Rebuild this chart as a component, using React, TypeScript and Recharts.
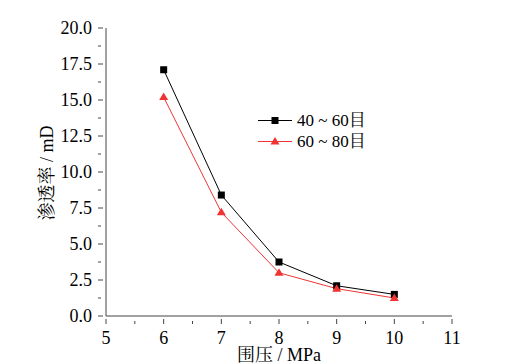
import { LineChart, XAxis, YAxis, Line, Legend } from "recharts";

const pressures = [6, 7, 8, 9, 10];
const mesh4060 = [17.1, 8.4, 3.75, 2.1, 1.5];
const mesh6080 = [15.2, 7.2, 3.0, 1.9, 1.25];

const xTicks = [5, 5.5, 6, 6.5, 7, 7.5, 8, 8.5, 9, 9.5, 10, 10.5, 11];
const yTicks = [0, 1.25, 2.5, 3.75, 5, 6.25, 7.5, 8.75, 10, 11.25, 12.5, 13.75, 15, 16.25, 17.5, 18.75, 20];

const seriesNames = ["40 ~ 60目", "60 ~ 80目"];

const data = pressures.map((p, i) => ({
    p,
    a: mesh4060[i],
    b: mesh6080[i],
}));

const FONT = "'Times New Roman', 'Liberation Serif', Tinos, 'DejaVu Serif', 'Noto Serif CJK SC', 'Noto Sans CJK SC', serif";
const AXIS = "#444";
const RED = "#f03434";

const XTick = (props: any) => {
    const { x, y, payload } = props;
    const major = Number.isInteger(payload.value);
    return (
        <g>
            <line x1={x} x2={x} y1={y} y2={y - (major ? 5 : 3)} stroke={AXIS} />
            {major && (
                <text x={x} y={y + 20} textAnchor="middle" fontSize={18} style={{ fontFamily: FONT }} fill="#000">
                    {payload.value}
                </text>
            )}
        </g>
    );
};

const YTick = (props: any) => {
    const { x, y, payload } = props;
    const major = payload.value % 2.5 === 0;
    return (
        <g>
            <line x1={x} x2={x + (major ? 5 : 3)} y1={y} y2={y} stroke={AXIS} />
            {major && (
                <text x={x - 6} y={y + 6} textAnchor="end" fontSize={18} style={{ fontFamily: FONT }} fill="#000">
                    {payload.value.toFixed(1)}
                </text>
            )}
        </g>
    );
};

const Square = (props: any) => {
    const { cx, cy } = props;
    return <rect x={cx - 3.5} y={cy - 3.5} width={7} height={7} fill="#000" />;
};

const Triangle = (props: any) => {
    const { cx, cy } = props;
    return <path d={`M${cx},${cy - 4.5} L${cx + 4.5},${cy + 3} L${cx - 4.5},${cy + 3} Z`} fill={RED} />;
};

const LegendBox = () => (
    <div style={{ fontFamily: FONT, fontSize: 17, lineHeight: "21px" }}>
        {seriesNames.map((n, i) => (
            <div key={n} style={{ display: "flex", alignItems: "center" }}>
                <svg width={39} height={21}>
                    <line x1={0} x2={34} y1={10.5} y2={10.5} stroke={i === 0 ? "#000" : RED} />
                    {i === 0 ? <Square cx={17} cy={10.5} /> : <Triangle cx={17} cy={10.5} />}
                </svg>
                <span>{n}</span>
            </div>
        ))}
    </div>
);

export default function App() {
    return (
        <div style={{ position: "relative" }}>
            <LineChart width={516} height={356} data={data} margin={{ top: 20, right: 72, left: 0, bottom: 0 }}>
                <XAxis
                    dataKey="p"
                    type="number"
                    domain={[5, 11]}
                    ticks={xTicks}
                    interval={0}
                    tickLine={false}
                    tick={<XTick />}
                    stroke={AXIS}
                    height={48}
                />
                <YAxis
                    type="number"
                    domain={[0, 20]}
                    ticks={yTicks}
                    interval={0}
                    tickLine={false}
                    tick={<YTick />}
                    stroke={AXIS}
                    width={98}
                />
                <Line dataKey="a" stroke="#000" strokeWidth={1} dot={<Square />} isAnimationActive={false} />
                <Line dataKey="b" stroke={RED} strokeWidth={1} dot={<Triangle />} isAnimationActive={false} />
                <Legend
                    content={<LegendBox />}
                    layout="vertical"
                    align="center"
                    verticalAlign="middle"
                    wrapperStyle={{ left: 250, top: 102, width: 130 }}
                />
            </LineChart>
            <div
                style={{
                    position: "absolute",
                    left: 0,
                    top: 340,
                    width: 542,
                    textAlign: "center",
                    fontFamily: FONT,
                    fontSize: 18,
                    lineHeight: "15px",
                }}
            >
                围压 / MPa
            </div>
            <div
                style={{
                    position: "absolute",
                    left: 39,
                    top: 165,
                    transform: "translate(-50%, -50%) rotate(-90deg)",
                    whiteSpace: "nowrap",
                    fontFamily: FONT,
                    fontSize: 18,
                    lineHeight: "18px",
                }}
            >
                渗透率 / mD
            </div>
        </div>
    );
}
